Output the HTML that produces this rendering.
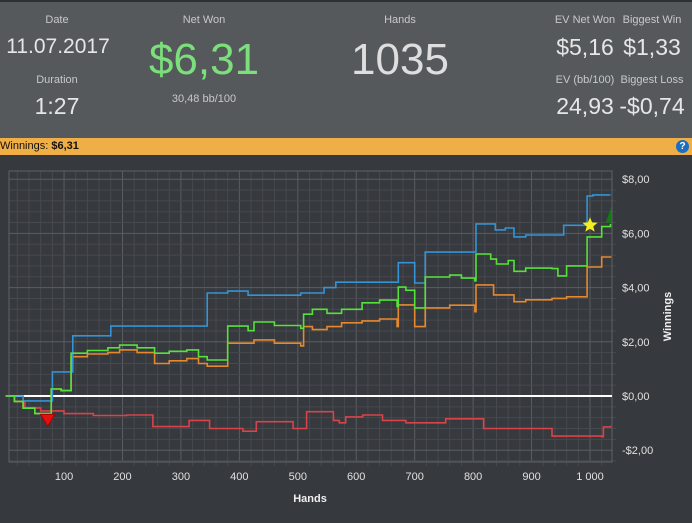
<!DOCTYPE html>
<html><head><meta charset="utf-8">
<style>
body{margin:0;width:692px;height:523px;overflow:hidden;background:#36393d;font-family:"Liberation Sans","DejaVu Sans",sans-serif;}
#hdr{position:absolute;left:0;top:0;width:692px;height:138px;background:#56595c;border-top:2px solid #2e3033;box-sizing:border-box}
.t{position:absolute;color:#c8c8c8;font-size:11px;text-align:center;transform:translateX(-50%);white-space:nowrap}
.v{position:absolute;color:#e6e6e6;font-size:23px;text-align:center;transform:translateX(-50%);white-space:nowrap}
#bar{position:absolute;left:0;top:138px;width:692px;height:17px;background:#f0ae46;font-size:11px;line-height:17px;color:#111}
#help{position:absolute;right:3px;top:2px;width:13px;height:13px;border-radius:50%;background:#1a6fc4;color:#fff;font-size:10px;font-weight:bold;text-align:center;line-height:13px}
svg{position:absolute;left:0;top:155px}
</style></head><body>
<div id="hdr">
<div class="t" style="left:57px;top:12px">Date</div>
<div class="v" style="left:58px;top:33px;font-size:21px">11.07.2017</div>
<div class="t" style="left:57px;top:72px">Duration</div>
<div class="v" style="left:57px;top:91px">1:27</div>
<div class="t" style="left:204px;top:12px">Net Won</div>
<div class="v" style="left:204px;top:33px;font-size:44px;color:#7be07b">$6,31</div>
<div class="t" style="left:204px;top:91px">30,48 bb/100</div>
<div class="t" style="left:400px;top:12px">Hands</div>
<div class="v" style="left:400px;top:33px;font-size:44px;color:#dedede">1035</div>
<div class="t" style="left:585px;top:12px">EV Net Won</div>
<div class="v" style="left:585px;top:32px">$5,16</div>
<div class="t" style="left:652px;top:12px">Biggest Win</div>
<div class="v" style="left:652px;top:32px">$1,33</div>
<div class="t" style="left:585px;top:72px">EV (bb/100)</div>
<div class="v" style="left:585px;top:91px">24,93</div>
<div class="t" style="left:652px;top:72px">Biggest Loss</div>
<div class="v" style="left:652px;top:91px">-$0,74</div>
</div>
<div id="bar">Winnings: <b>$6,31</b><div id="help">?</div></div>
<svg id="chart" width="692" height="368"></svg>
<script>
const xTicks=[100,200,300,400,500,600,700,800,900,1000];
const xTickLabels=["100","200","300","400","500","600","700","800","900","1 000"];
const yTicks=[8,6,4,2,0,-2];
const yTickLabels=["$8,00","$6,00","$4,00","$2,00","$0,00","-$2,00"];
const blueHands=[0,30,80,80,115,180,345,380,415,505,545,565,672,700,718,805,838,855,870,890,955,995,1005,1035];
const blueVals=[0,-0.18,-0.18,0.89,2.22,2.58,3.8,3.87,3.72,3.8,4.0,4.2,4.92,4.17,5.31,6.35,6.13,6.2,5.87,5.94,6.3,7.38,7.42,7.42];
const greenHands=[0,15,30,50,75,78,95,112,140,175,195,225,255,280,310,330,345,380,415,425,460,505,510,525,550,575,610,640,670,672,685,700,718,760,780,803,805,830,840,860,870,890,935,945,960,995,1020,1035];
const greenVals=[0,-0.2,-0.45,-0.65,-0.72,0.26,0.2,1.58,1.68,1.78,1.88,1.78,1.58,1.65,1.7,1.45,1.33,2.58,2.41,2.73,2.6,2.5,3.02,3.2,3.05,3.2,3.44,3.54,3.3,4.02,3.9,3.25,4.39,4.46,4.35,4.25,5.24,5.05,4.87,5.0,4.6,4.72,4.7,4.43,4.8,5.87,6.25,6.35];
const orangeHands=[0,15,30,50,75,78,95,112,140,175,195,225,255,280,310,330,345,380,425,460,505,510,525,550,575,610,640,670,672,700,718,760,803,805,835,870,890,935,960,995,1020,1035];
const orangeVals=[0,-0.2,-0.45,-0.65,-0.72,0.26,0.2,1.45,1.55,1.6,1.7,1.6,1.2,1.3,1.38,1.2,1.1,1.95,2.07,1.95,1.85,2.56,2.45,2.56,2.7,2.77,2.84,2.56,3.36,2.56,3.25,3.35,3.11,4.1,3.73,3.48,3.55,3.6,3.66,4.76,5.13,5.16];
const redHands=[0,15,33,60,100,150,207,252,314,349,406,429,492,515,561,571,582,611,645,685,753,818,923,935,1020,1023,1035];
const redVals=[0,-0.2,-0.44,-0.55,-0.65,-0.72,-0.7,-1.13,-0.9,-1.2,-1.3,-0.95,-1.2,-0.58,-0.9,-0.99,-0.77,-0.7,-0.9,-0.99,-0.84,-1.2,-1.2,-1.48,-1.5,-1.14,-1.1];
const OY=155;
const X0=5.6,KX=0.5844,Y0=396-OY,KY=27.1;
const L=9,R=612,T=171-OY,B=462-OY;
function xs(h){return X0+h*KX;}
function ys(v){return Y0-v*KY;}
const svg=document.getElementById('chart');
const NS='http://www.w3.org/2000/svg';
function mk(tag,attrs){const e=document.createElementNS(NS,tag);for(const k in attrs)e.setAttribute(k,attrs[k]);svg.appendChild(e);return e;}
for(let h=20;h<=1035;h+=20){const x=xs(h);if(x<L||x>R)continue;
 const g=mk('line',{x1:x,x2:x,y1:T,y2:B+(h%100==0?0:4),stroke:h%100==0?'#5a5e63':'#46494e','stroke-width':1});
 }
for(let v=-2.4;v<=8.8;v+=0.4){const vv=Math.round(v*10)/10;const y=ys(vv);if(y<T||y>B)continue;
 const major=Math.abs(vv%2)<0.01;
 const g=mk('line',{x1:L,x2:R+(major?0:4),y1:y,y2:y,stroke:major?'#5a5e63':'#46494e','stroke-width':1});
 }
const fr=mk('rect',{x:L,y:T,width:R-L,height:B-T,fill:'none',stroke:'#5f6368'});

xTicks.forEach((h,i)=>{const t=mk('text',{x:xs(h),y:B+18,fill:'#e0e0e0','font-size':11,'text-anchor':'middle'});t.textContent=xTickLabels[i];
 });
yTicks.forEach((v,i)=>{const t=mk('text',{x:R+10,y:ys(v)+4,fill:'#e0e0e0','font-size':11});t.textContent=yTickLabels[i];
 });
const xt=mk('text',{x:310,y:B+40,fill:'#f0f0f0','font-size':11,'font-weight':'bold','text-anchor':'middle'});xt.textContent='Hands';

const yt=mk('text',{x:0,y:0,fill:'#f0f0f0','font-size':11,'font-weight':'bold','text-anchor':'middle',transform:`translate(671,${(T+B)/2}) rotate(-90)`});yt.textContent='Winnings';

const zl=mk('line',{x1:L,x2:R,y1:ys(0),y2:ys(0),stroke:'#ffffff','stroke-width':2});

function step(H,V,color,name){let d='M'+xs(H[0]).toFixed(1)+','+ys(V[0]).toFixed(1);
 for(let i=1;i<H.length;i++){d+=' H'+xs(H[i]).toFixed(1)+' V'+ys(V[i]).toFixed(1);}
 const p=mk('path',{d:d,fill:'none',stroke:color,'stroke-width':1.6});
 }
step(redHands,redVals,'#d9434a','all-in-ev-diff-line');
step(orangeHands,orangeVals,'#e6892e','ev-winnings-line');
step(blueHands,blueVals,'#3394d6','showdown-winnings-line');
step(greenHands,greenVals,'#55e23a','net-winnings-line');
const lo=mk('polygon',{points:`${xs(72)-7},${ys(-0.9)-6} ${xs(72)+7},${ys(-0.9)-6} ${xs(72)},${ys(-0.9)+6}`,fill:'#e41010',stroke:'#a00'});

const cx=xs(1000),cy=ys(6.3);let pts=[];for(let i=0;i<10;i++){const r=i%2?3.5:8,a=-Math.PI/2+i*Math.PI/5;pts.push((cx+r*Math.cos(a)).toFixed(1)+','+(cy+r*Math.sin(a)).toFixed(1));}
const st=mk('polygon',{points:pts.join(' '),fill:'#f5ee1a'});

const gt=mk('polygon',{points:`${xs(1027)},${ys(6.4)} ${xs(1037)},${ys(6.4)} ${xs(1037)},${ys(7.0)}`,fill:'#127a12'});

</script>
</body></html>
